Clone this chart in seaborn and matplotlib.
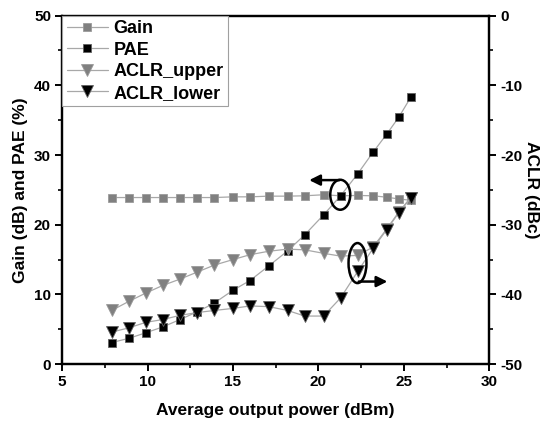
import pandas as pd
import numpy as np
import matplotlib.pyplot as plt
from matplotlib.patches import Ellipse
from matplotlib.ticker import MultipleLocator
import seaborn as sns

# data
pout = [7.9, 8.9, 9.9, 10.9, 11.9, 12.9, 13.9, 15.0, 16.0, 17.1,
        18.2, 19.2, 20.3, 21.3, 22.3, 23.2, 24.0, 24.7, 25.4]
gain = [23.9, 23.9, 23.9, 23.9, 23.9, 23.9, 23.9, 24.0, 24.0, 24.1,
        24.1, 24.15, 24.3, 24.15, 24.2, 24.15, 23.95, 23.7, 23.5]
pae = [3.1, 3.7, 4.5, 5.35, 6.4, 7.5, 8.75, 10.6, 12.0, 14.1,
       16.25, 18.55, 21.4, 24.15, 27.3, 30.4, 33.0, 35.4, 38.25]
aclr_upper = [-42.3, -41.0, -39.8, -38.7, -37.8, -36.8, -35.8, -35.0, -34.3, -33.8,
              -33.5, -33.6, -34.1, -34.5, -34.4, -33.2, -30.6, -28.2, -26.1]
aclr_lower = [-45.4, -44.8, -44.0, -43.6, -43.0, -42.6, -42.3, -42.0, -41.65, -41.75,
              -42.3, -43.1, -43.1, -40.5, -36.7, -33.4, -30.7, -28.3, -26.2]

df = pd.DataFrame({'pout': pout, 'gain': gain, 'pae': pae,
                   'upper': aclr_upper, 'lower': aclr_lower})

sns.set_style('ticks')
plt.rcParams['font.family'] = ['Liberation Sans', 'DejaVu Sans']
plt.rcParams['font.weight'] = 'bold'
plt.rcParams['axes.unicode_minus'] = False
plt.rcParams['text.color'] = 'black'
plt.rcParams['axes.labelcolor'] = 'black'

fig = plt.figure(figsize=(5.4, 4.21), dpi=100)
ax = fig.add_axes([0.115, 0.135, 0.791, 0.828])
ax2 = ax.twinx()

linec = '#a8a8a8'
sns.lineplot(data=df, x='pout', y='gain', ax=ax, color=linec, lw=0.9,
             marker='s', markersize=6, markerfacecolor='#808080',
             markeredgecolor='#9a9a9a', markeredgewidth=0.6, label='Gain', legend=False)
sns.lineplot(data=df, x='pout', y='pae', ax=ax, color=linec, lw=0.9,
             marker='s', markersize=6, markerfacecolor='black',
             markeredgecolor='#606060', markeredgewidth=0.6, label='PAE', legend=False)
sns.lineplot(data=df, x='pout', y='upper', ax=ax2, color=linec, lw=0.9,
             marker='v', markersize=8, markerfacecolor='#808080',
             markeredgecolor='#9a9a9a', markeredgewidth=0.6, label='ACLR_upper', legend=False)
sns.lineplot(data=df, x='pout', y='lower', ax=ax2, color=linec, lw=0.9,
             marker='v', markersize=8, markerfacecolor='black',
             markeredgecolor='#606060', markeredgewidth=0.6, label='ACLR_lower', legend=False)

ax.set_xlim(5, 30)
ax.set_ylim(0, 50)
ax2.set_ylim(-50, 0)
ax.xaxis.set_major_locator(MultipleLocator(5))
ax.xaxis.set_minor_locator(MultipleLocator(2.5))
ax.yaxis.set_major_locator(MultipleLocator(10))
ax.yaxis.set_minor_locator(MultipleLocator(5))
ax2.yaxis.set_major_locator(MultipleLocator(10))
ax2.yaxis.set_minor_locator(MultipleLocator(5))

for a in (ax, ax2):
    for s in a.spines.values():
        s.set_linewidth(1.6)
        s.set_color('black')
    a.tick_params(which='major', direction='out', length=5, width=1.4,
                  labelsize=11, colors='black', labelcolor='black', pad=3)
    a.tick_params(which='minor', direction='out', length=3, width=1.2, colors='black')
    for lab in a.get_xticklabels() + a.get_yticklabels():
        lab.set_fontweight('bold')

ax.set_xlabel('Average output power (dBm)', fontsize=12.5, fontweight='bold',
              color='black', labelpad=10)
ax.set_ylabel('Gain (dB) and PAE (%)', fontsize=12.5, fontweight='bold',
              color='black', labelpad=4)
ax2.set_ylabel('ACLR (dBc)', fontsize=12.5, fontweight='bold', rotation=270,
               color='black', va='bottom', labelpad=1)

# ellipses and arrows marking the axes
ax.add_patch(Ellipse((21.28, 24.3), 1.17, 4.3, fill=False, lw=1.8, ec='black', zorder=5))
ax.annotate('', xy=(19.3, 26.4), xytext=(21.4, 26.4),
            arrowprops=dict(arrowstyle='-|>', lw=1.8, color='black', mutation_scale=16))
ax2.add_patch(Ellipse((22.29, -35.5), 1.05, 5.74, fill=False, lw=1.8, ec='black', zorder=5))
ax2.annotate('', xy=(24.2, -38.15), xytext=(22.2, -38.15),
             arrowprops=dict(arrowstyle='-|>', lw=1.8, color='black', mutation_scale=16))

h1, l1 = ax.get_legend_handles_labels()
h2, l2 = ax2.get_legend_handles_labels()
leg = ax2.legend(h1 + h2, l1 + l2, loc='upper left', borderaxespad=0, fancybox=False,
                 framealpha=1, edgecolor='#a0a0a0', handlelength=2.3,
                 handletextpad=0.3, labelspacing=0.25, borderpad=0.25,
                 prop={'weight': 'bold', 'size': 13})
leg.get_frame().set_linewidth(0.8)

fig.savefig('out.png', dpi=100)
